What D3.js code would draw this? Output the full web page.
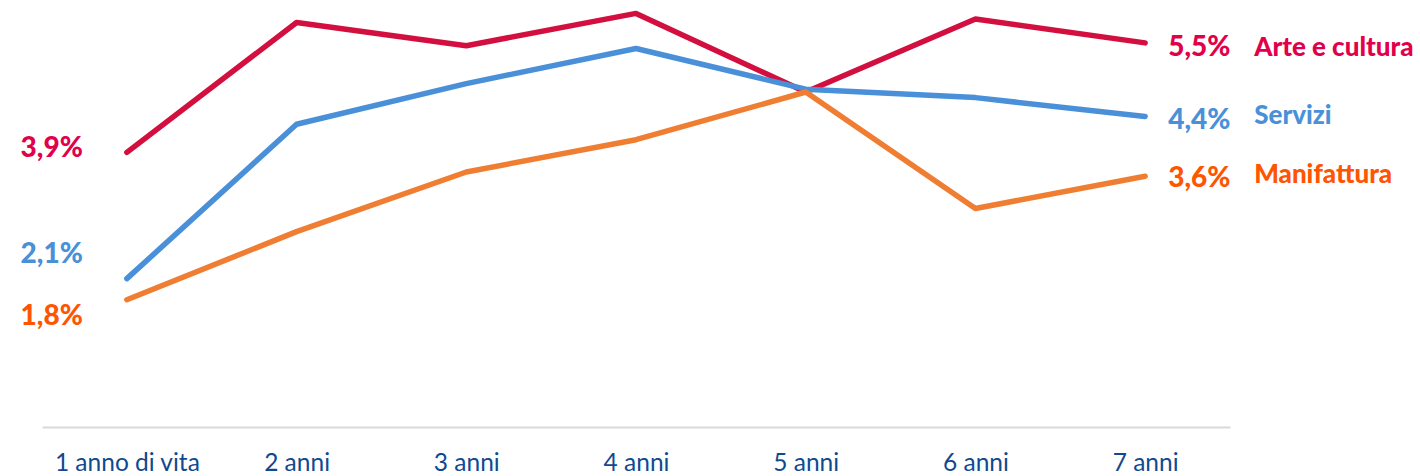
<!DOCTYPE html>
<html>
<head>
<meta charset="utf-8">
<script src="https://cdn.jsdelivr.net/npm/d3@7"></script>
<style>
  body { margin: 0; background: #fff; }
  svg text { font-family: Lato, "Open Sans", sans-serif; }
</style>
</head>
<body>
<div id="chart"></div>
<script>
// categories (x axis)
var categories = ["1 anno di vita", "2 anni", "3 anni", "4 anni", "5 anni", "6 anni", "7 anni"];

// series values, %
var arteCultura = [3.9, 5.75, 5.42, 5.88, 4.76, 5.8, 5.46];
var servizi     = [2.1, 4.3, 4.88, 5.38, 4.8, 4.68, 4.41];
var manifattura = [1.8, 2.77, 3.62, 4.08, 4.76, 3.1, 3.56];

var seriesNames = ["Arte e cultura", "Servizi", "Manifattura"];

var width = 1420, height = 476;

// style per series: line colour, label colour, label nudges
var styles = [
  {line: "#d20f3f", text: "#e2004a", dyStart: 5,   dyEnd: 13, dyName: 0},
  {line: "#4a90d9", text: "#4a90d9", dyStart: -16, dyEnd: 12, dyName: -5},
  {line: "#ef7d32", text: "#ff5500", dyStart: 25,  dyEnd: 11, dyName: -4}
];

var series = [arteCultura, servizi, manifattura].map(function(v, i) {
  return {name: seriesNames[i], values: v, style: styles[i]};
});

var fmt = function(v) { return v.toFixed(1).replace(".", ",") + "%"; };

var svg = d3.select("#chart").append("svg")
    .attr("width", width)
    .attr("height", height);

var x = d3.scalePoint()
    .domain(categories)
    .range([42, 1230])
    .padding(0.5);

var y = d3.scaleLinear()
    .domain([0, 6])
    .range([426, 5]);

// x axis: light rule + dark blue labels
var xAxis = d3.axisBottom(x).tickSize(0).tickPadding(27);
var gx = svg.append("g")
    .attr("transform", "translate(0,427)")
    .call(xAxis);
gx.select(".domain").attr("stroke", "#d9d9d9").attr("stroke-width", 2);
gx.selectAll("text")
    .attr("fill", "#0f4a8f")
    .style("font-size", "24.5px");

var line = d3.line()
    .x(function(d, i) { return x(categories[i]); })
    .y(function(d) { return y(d); });

svg.selectAll(".series")
    .data(series)
    .enter().append("path")
    .attr("class", "series")
    .attr("fill", "none")
    .attr("stroke", function(d) { return d.style.line; })
    .attr("stroke-width", 5.5)
    .attr("stroke-linejoin", "round")
    .attr("stroke-linecap", "round")
    .attr("d", function(d) { return line(d.values); });

// start value labels (left)
svg.selectAll(".startLab")
    .data(series)
    .enter().append("text")
    .attr("class", "startLab")
    .attr("x", x(categories[0]) - 44)
    .attr("y", function(d) { return y(d.values[0]) + d.style.dyStart; })
    .attr("text-anchor", "end")
    .attr("fill", function(d) { return d.style.text; })
    .style("font-size", "28px")
    .style("font-weight", "900")
    .text(function(d) { return fmt(d.values[0]); });

// end value labels + series names (right)
var last = categories.length - 1;
svg.selectAll(".endLab")
    .data(series)
    .enter().append("text")
    .attr("class", "endLab")
    .attr("x", x(categories[last]) + 23)
    .attr("y", function(d) { return y(d.values[last]) + d.style.dyEnd; })
    .attr("fill", function(d) { return d.style.text; })
    .style("font-size", "28px")
    .style("font-weight", "900")
    .text(function(d) { return fmt(d.values[last]); });

svg.selectAll(".nameLab")
    .data(series)
    .enter().append("text")
    .attr("class", "nameLab")
    .attr("x", x(categories[last]) + 109)
    .attr("y", function(d) { return y(d.values[last]) + d.style.dyEnd + d.style.dyName; })
    .attr("fill", function(d) { return d.style.text; })
    .style("font-size", "26px")
    .style("font-weight", "900")
    .text(function(d) { return d.name; });
</script>
</body>
</html>
